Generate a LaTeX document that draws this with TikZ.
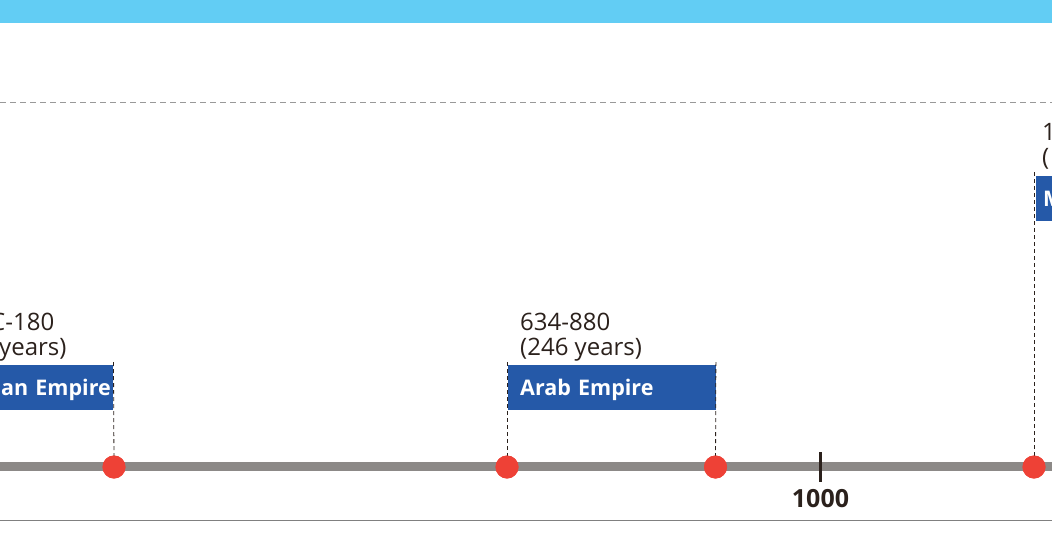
\documentclass[tikz,border=0pt]{standalone}
\usepackage{fontspec}
\setmainfont{Open Sans}
\usepackage{xcolor}
\definecolor{skyband}{HTML}{62CDF4}
\definecolor{empblue}{HTML}{2559A8}
\definecolor{dotred}{HTML}{EE4136}
\definecolor{bargray}{HTML}{8C8987}
\definecolor{inkdark}{HTML}{2B211C}

\tikzset{
	empbox/.style={fill=empblue, draw=none, minimum height=45pt, inner xsep=12pt, inner ysep=0pt,
		text height=15pt, text depth=0pt, font=\fontsize{21.5}{21.5}\selectfont\bfseries, text=white},
	yrs/.style={anchor=base west, inner sep=0pt, text=inkdark, font=\fontsize{24}{24}\selectfont},
	evdot/.style={circle, fill=dotred, draw=none, minimum size=23pt, inner sep=0pt},
	guide/.style={densely dashed, dash pattern=on 4pt off 3pt, line width=0.8pt, draw=inkdark},
}

\begin{document}
\begin{tikzpicture}[x=1pt, y=-1pt]
	\useasboundingbox (0,0) rectangle (1052,552);
	\clip (0,0) rectangle (1052,552);
	% Band, rules and axis:
	\fill[skyband] (0,0) rectangle (1052,23);
	\draw[dashed, dash pattern=on 6pt off 4pt, draw=gray!80, line width=0.8pt] (0,102.5) -- (1052,102.5);
	\draw[draw=gray, line width=1.2pt] (0,520.5) -- (1052,520.5);
	\coordinate (axl) at (0,466.5);
	\coordinate (axr) at (1052,466.5);
	\draw[bargray, line width=9pt] (axl) -- (axr);
	\draw[inkdark, line width=3.5pt] (820.5,452) coordinate (tk) -- (820.5,482);
	\node[anchor=north, inner sep=0pt, text=inkdark, font=\fontsize{25}{25}\selectfont\bfseries] (yr1000) at (820.5,489) {1000};
	% Empires:
	\node[yrs] (romyrs) at (-10,330) {C-180};
	\node[yrs] (romlen) at (-1,355) {years)};
	\node[empbox, anchor=north east, text width=150pt, align=right, inner xsep=2pt] (roman) at (113,365) {an Empire};
	\node[yrs] (arabyrs) at (520,330) {634-880};
	\node[yrs] (arablen) at (520,355) {(246 years)};
	\node[empbox, anchor=north west, text width=184pt, align=left] (arab) at (508,365) {Arab Empire};
	\node[yrs] (nextyrs) at (1042,140) {1};
	\node[yrs] (nextlen) at (1042,165) {(};
	\node[empbox, anchor=north west, text width=40pt, align=left, inner xsep=7pt] (next) at (1036,176) {M};
	% Dots and guides:
	\node[evdot] (romend) at (114,467) {};
	\node[evdot] (arabstart) at (507,467) {};
	\node[evdot] (arabend) at (715.5,467) {};
	\node[evdot] (nextstart) at (1034,467) {};
	\draw[guide] (roman.north east) ++(0.5,-3) -- (romend.center);
	\draw[guide] (arab.north west) ++(-1,-3) -- (arabstart.center);
	\draw[guide] (arab.north east) ++(-0.5,-3) -- (arabend.center);
	\draw[guide] (next.north west) ++(-2,-4) -- (nextstart.center);
	\node[evdot] at (romend) {};
	\node[evdot] at (arabstart) {};
	\node[evdot] at (arabend) {};
	\node[evdot] at (nextstart) {};
\end{tikzpicture}
\end{document}
